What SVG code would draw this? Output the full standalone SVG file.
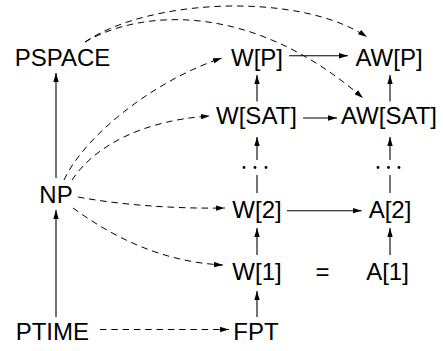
<svg xmlns="http://www.w3.org/2000/svg" width="443" height="351" viewBox="0 0 443 351">
<style>
text{font-family:"Liberation Sans",Arial,Helvetica,sans-serif;font-size:24px;fill:#000;text-anchor:middle}
.e{fill:none;stroke:#000;stroke-width:1.1}
.d{fill:none;stroke:#000;stroke-width:1;stroke-dasharray:6.5 4.8}
.a{marker-end:url(#ah)}
</style>
<defs>
<marker id="ah" viewBox="0 0 10 6" refX="10" refY="3" markerWidth="9" markerHeight="5.6" orient="auto" markerUnits="userSpaceOnUse"><path d="M0,0 L10,3 L0,6 z" fill="#000"/></marker>
</defs>
<rect width="443" height="351" fill="#fff"/>
<g id="connectors">
<path class="e a" d="M56,178 V73"/>
<path class="e a" d="M56,317 V210"/>
<path class="e a" d="M289,55.7 H348"/>
<path class="e a" d="M303,118 H337"/>
<path class="e a" d="M287,210.7 H361.7"/>
<path class="e a" d="M257,101.5 V75"/>
<path class="e a" d="M390,101.5 V75"/>
<path class="e" d="M257,193 V175"/>
<path class="e a" d="M257,160 V137"/>
<path class="e" d="M390,193 V175"/>
<path class="e a" d="M390,160 V137"/>
<path class="e a" d="M257,255 V228"/>
<path class="e a" d="M390,255 V228"/>
<path class="e a" d="M257,317 V291"/>
<path class="d a" d="M100,329.5 H229"/>
<path class="d a" d="M85,42 C150,-2 300,-8 367,37"/>
<path class="d a" d="M85,42 C140,10 250,0 363,98"/>
<path class="d a" d="M64,180 C85,135 155,80 222,58"/>
<path class="d a" d="M72,180 C95,145 145,120 210,116"/>
<path class="d a" d="M78,197 C115,204 170,209 225,208"/>
<path class="d a" d="M73,208 C110,235 160,262 223,265"/>
</g>
<g id="PSPACE"><text x="62.5" y="66">PSPACE</text></g>
<g id="WP"><text x="257" y="66">W[P]</text></g>
<g id="AWP"><text x="389" y="66">AW[P]</text></g>
<g id="WSAT"><text x="256.5" y="124">W[SAT]</text></g>
<g id="AWSAT"><text x="389" y="124">AW[SAT]</text></g>
<g id="NP"><text x="56" y="202.5">NP</text></g>
<g id="Wdots"><circle cx="244" cy="167.5" r="1.4"/><circle cx="255" cy="167.5" r="1.4"/><circle cx="266" cy="167.5" r="1.4"/></g>
<g id="Adots"><circle cx="378" cy="167.5" r="1.4"/><circle cx="388.5" cy="167.5" r="1.4"/><circle cx="399" cy="167.5" r="1.4"/></g>
<g id="W2"><text x="257" y="218">W[2]</text></g>
<g id="A2"><text x="390" y="218">A[2]</text></g>
<g id="W1"><text x="257" y="280">W[1]</text></g>
<g id="eq"><text x="322.5" y="280">=</text></g>
<g id="A1"><text x="387.5" y="280">A[1]</text></g>
<g id="PTIME"><text x="52.3" y="340">PTIME</text></g>
<g id="FPT"><text x="256" y="340">FPT</text></g>
</svg>
